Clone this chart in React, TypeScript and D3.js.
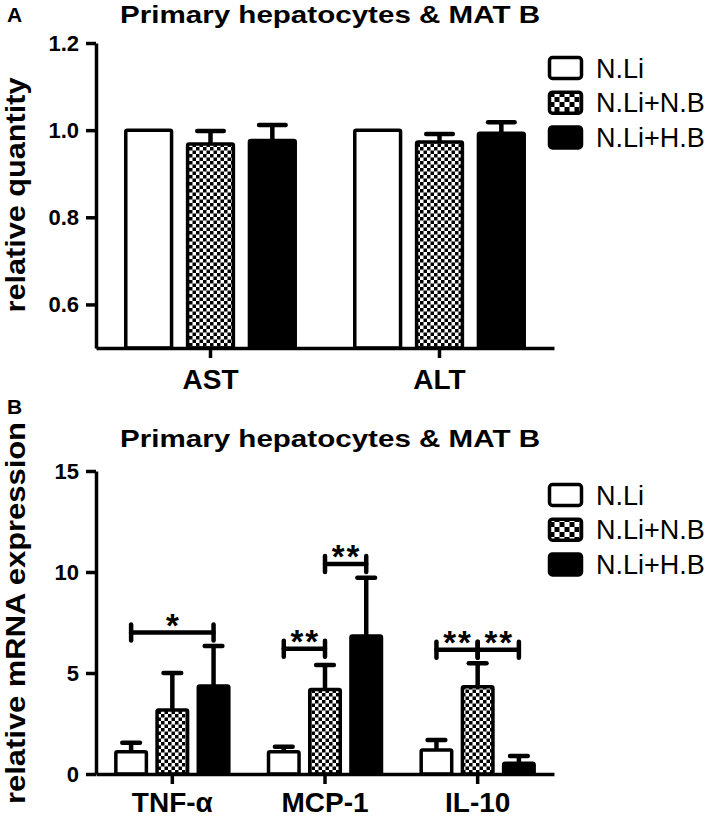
import React, { useRef, useEffect } from "react";
import * as d3 from "d3";

const groups = ["N.Li", "N.Li+N.B", "N.Li+H.B"];

// panel A
const enzymes = ["AST", "ALT"];
const enzymeMean = [
  [1.0, 0.968, 0.976],
  [1.0, 0.973, 0.993],
];
const enzymeErr = [
  [0, 0.03, 0.036],
  [0, 0.018, 0.025],
];
const enzymeTicks = [0.6, 0.8, 1.0, 1.2];

// panel B
const genes = ["TNF-α", "MCP-1", "IL-10"];
const geneMean = [
  [1.1, 3.17, 4.36],
  [1.1, 4.18, 6.83],
  [1.19, 4.32, 0.53],
];
const geneErr = [
  [0.45, 1.83, 1.98],
  [0.25, 1.22, 2.89],
  [0.49, 1.16, 0.36],
];
const geneTicks = [0, 5, 10, 15];
const sigGene = ["TNF-α", "MCP-1", "MCP-1", "IL-10", "IL-10"];
const sigFrom = [0, 0, 1, 0, 1];
const sigTo = [2, 1, 2, 1, 2];
const sigLevel = [7.0, 6.2, 10.4, 6.15, 6.15];
const sigLabel = ["*", "**", "**", "**", "**"];

const FONT = "'Liberation Sans', Arial, Helvetica, sans-serif";
const fills = ["#fff", "url(#checker)", "#000"];
const legendFills = ["#fff", "url(#checkerBig)", "#000"];

function drawPanel(g, opts) {
  const { cats, mean, err, ticks, domain, top, bottom, title, titleY, ylabel, ylabelLen, letter, letterY, legendY } = opts;
  const x = d3.scaleBand().domain(cats).range([96, 554]);
  const y = d3.scaleLinear().domain(domain).range([bottom, top]);
  const step = x.bandwidth();
  const barW = step * 0.2;
  const off = step * 0.27;

  // title + panel letter
  g.append("text")
    .attr("x", 330)
    .attr("y", titleY)
    .attr("text-anchor", "middle")
    .attr("font-size", 24)
    .attr("font-weight", "bold")
    .attr("textLength", 420)
    .attr("lengthAdjust", "spacingAndGlyphs")
    .text(title);
  g.append("text")
    .attr("x", 7)
    .attr("y", letterY)
    .attr("font-size", 21)
    .attr("font-weight", "bold")
    .text(letter);

  // y label
  g.append("text")
    .attr("transform", `translate(25,${opts.ylabelY}) rotate(-90)`)
    .attr("text-anchor", "middle")
    .attr("font-size", 27)
    .attr("font-weight", "bold")
    .attr("textLength", ylabelLen)
    .attr("lengthAdjust", "spacingAndGlyphs")
    .text(ylabel);

  // bars
  cats.forEach((c, ci) => {
    const cx = x(c) + step / 2;
    groups.forEach((grp, gi) => {
      const bx = cx + (gi - 1) * off;
      const v = mean[ci][gi];
      const e = err[ci][gi];
      if (e > 0) {
        g.append("line")
          .attr("x1", bx).attr("x2", bx)
          .attr("y1", y(v)).attr("y2", y(v + e))
          .attr("stroke", "#000").attr("stroke-width", 4.5);
        g.append("line")
          .attr("x1", bx - barW * 0.29).attr("x2", bx + barW * 0.29)
          .attr("y1", y(v + e)).attr("y2", y(v + e))
          .attr("stroke", "#000").attr("stroke-width", 4.5)
          .attr("stroke-linecap", "round");
      }
      g.append("rect")
        .attr("x", bx - barW / 2)
        .attr("y", y(v))
        .attr("width", barW)
        .attr("height", bottom - y(v))
        .attr("rx", 1.5)
        .attr("fill", fills[gi])
        .attr("stroke", "#000")
        .attr("stroke-width", 3.5);
    });
  });

  // axes
  const ya = g.append("g")
    .attr("transform", "translate(96,0)")
    .call(d3.axisLeft(y).tickValues(ticks).tickSize(10).tickSizeOuter(0).tickPadding(7)
      .tickFormat(opts.fmt));
  ya.select(".domain").attr("stroke-width", 3.5);
  ya.selectAll(".tick line").attr("stroke-width", 3.5);
  ya.selectAll(".tick text")
    .attr("font-size", 22).attr("font-weight", "bold").attr("font-family", FONT).attr("fill", "#000");

  const xa = g.append("g")
    .attr("transform", `translate(0,${bottom})`)
    .call(d3.axisBottom(x).tickSize(10).tickSizeOuter(0).tickPadding(opts.xPad));
  xa.select(".domain").attr("stroke-width", 3.5);
  xa.selectAll(".tick line").attr("stroke-width", 3.5);
  xa.selectAll(".tick text")
    .attr("font-size", 28).attr("font-weight", "bold").attr("font-family", FONT).attr("fill", "#000");

  // legend
  groups.forEach((grp, gi) => {
    const ly = legendY + gi * 34.7;
    g.append("rect")
      .attr("x", 549.5).attr("y", ly - 10.5)
      .attr("width", 32).attr("height", 21)
      .attr("rx", 3)
      .attr("fill", legendFills[gi])
      .attr("stroke", "#000").attr("stroke-width", 3.5);
    g.append("text")
      .attr("x", 596).attr("y", ly + 9.5)
      .attr("font-size", 27)
      .text(grp);
  });

  return { x, y, off, step };
}

const App = () => {
  const svgRef = useRef(null);

  useEffect(() => {
    const svg = d3.select(svgRef.current);
    svg.selectAll("g.root").remove();
    const root = svg.append("g").attr("class", "root").attr("font-family", FONT);

    drawPanel(root.append("g"), {
      cats: enzymes, mean: enzymeMean, err: enzymeErr, ticks: enzymeTicks,
      domain: [0.5, 1.2], top: 43, bottom: 348,
      title: "Primary hepatocytes & MAT B", titleY: 23,
      ylabel: "relative  quantity", ylabelY: 195, ylabelLen: 235,
      letter: "A", letterY: 22, legendY: 68, xPad: 11,
      fmt: d3.format(".1f"),
    });

    const b = drawPanel(root.append("g"), {
      cats: genes, mean: geneMean, err: geneErr, ticks: geneTicks,
      domain: [0, 15], top: 471, bottom: 774,
      title: "Primary hepatocytes & MAT B", titleY: 447,
      ylabel: "relative mRNA expression", ylabelY: 613, ylabelLen: 382,
      letter: "B", letterY: 414, legendY: 495, xPad: 8,
      fmt: d3.format("d"),
    });

    // significance brackets
    sigGene.forEach((c, i) => {
      const cx = b.x(c) + b.step / 2;
      const x1 = cx + (sigFrom[i] - 1) * b.off;
      const x2 = cx + (sigTo[i] - 1) * b.off;
      const yy = b.y(sigLevel[i]);
      const br = root.append("g")
        .attr("stroke", "#000").attr("stroke-width", 4.5).attr("stroke-linecap", "round");
      br.append("line").attr("x1", x1).attr("x2", x2).attr("y1", yy).attr("y2", yy);
      br.append("line").attr("x1", x1).attr("x2", x1).attr("y1", yy - 8).attr("y2", yy + 8);
      br.append("line").attr("x1", x2).attr("x2", x2).attr("y1", yy - 8).attr("y2", yy + 8);
      root.append("text")
        .attr("x", (x1 + x2) / 2 + 1)
        .attr("y", yy + 4)
        .attr("text-anchor", "middle")
        .attr("font-size", 33)
        .attr("font-weight", "bold")
        .attr("letter-spacing", 2)
        .text(sigLabel[i]);
    });
  }, []);

  return (
    <svg
      ref={svgRef}
      width={709}
      height={817}
      style={{ position: "absolute", left: 0, top: 0, background: "#fff" }}
    >
      <defs>
        <pattern id="checker" patternUnits="userSpaceOnUse" width={7} height={7}>
          <rect width={7} height={7} fill="#fff" />
          <rect width={3.5} height={3.5} fill="#000" />
          <rect x={3.5} y={3.5} width={3.5} height={3.5} fill="#000" />
        </pattern>
        <pattern id="checkerBig" patternUnits="userSpaceOnUse" width={10} height={10} x={549.5} y={2}>
          <rect width={10} height={10} fill="#fff" />
          <rect width={5} height={5} fill="#000" />
          <rect x={5} y={5} width={5} height={5} fill="#000" />
        </pattern>
      </defs>
    </svg>
  );
};

export default App;
